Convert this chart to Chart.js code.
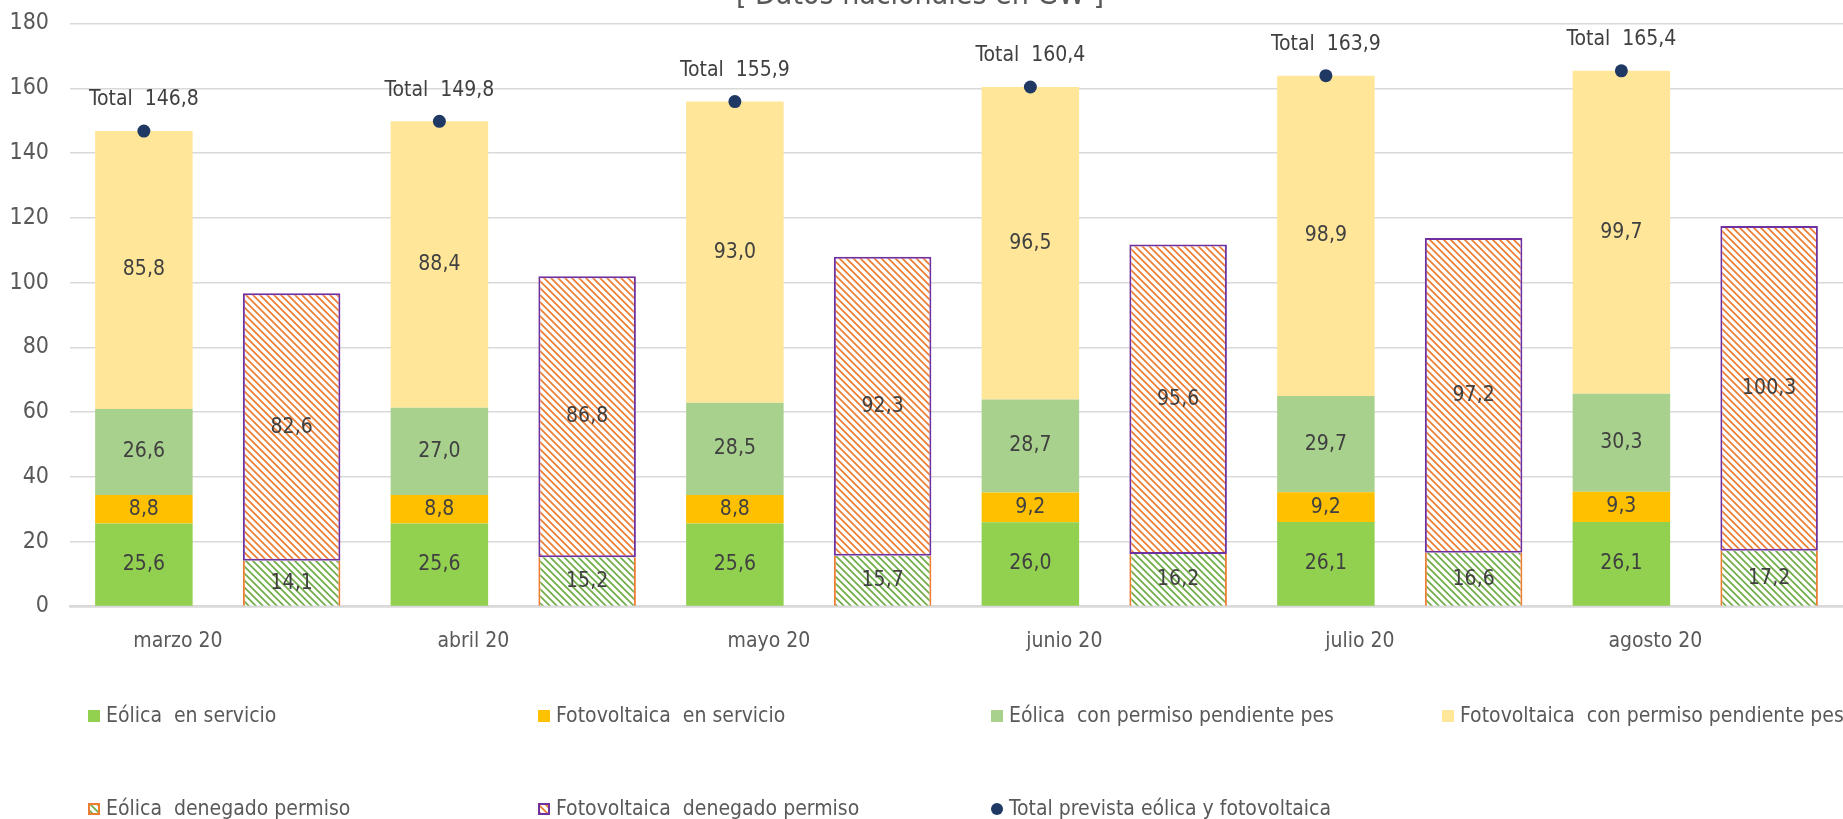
<!DOCTYPE html>
<html>
<head>
<meta charset="utf-8">
<script src="https://cdn.jsdelivr.net/npm/chart.js@4.4.1/dist/chart.umd.min.js"></script>
<style>
  html, body { margin: 0; padding: 0; background: #fff; }
  #wrap { width: 1843px; height: 819px; position: relative; }
</style>
</head>
<body>
<div id="wrap"><canvas id="grafico"></canvas></div>
<script>
// datos (GW)
const meses = ['marzo 20', 'abril 20', 'mayo 20', 'junio 20', 'julio 20', 'agosto 20'];
const eolicaServicio = [25.6, 25.6, 25.6, 26.0, 26.1, 26.1];
const fotovoltaicaServicio = [8.8, 8.8, 8.8, 9.2, 9.2, 9.3];
const eolicaPendiente = [26.6, 27.0, 28.5, 28.7, 29.7, 30.3];
const fotovoltaicaPendiente = [85.8, 88.4, 93.0, 96.5, 98.9, 99.7];
const eolicaDenegado = [14.1, 15.2, 15.7, 16.2, 16.6, 17.2];
const fotovoltaicaDenegado = [82.6, 86.8, 92.3, 95.6, 97.2, 100.3];
const totalPrevista = [146.8, 149.8, 155.9, 160.4, 163.9, 165.4];
const ticksY = [0, 20, 40, 60, 80, 100, 120, 140, 160, 180];

const FUENTE = "'Liberation Sans Narrow', 'DejaVu Sans Condensed', 'Roboto', sans-serif";

// cada mes ocupa dos huecos: columna en servicio/pendiente y columna denegada
const etiquetas = meses.flatMap(m => [m, '']);
const enPar = arr => arr.flatMap(v => [v, null]);
const enImpar = arr => arr.flatMap(v => [null, v]);

function coma(v) {
  return v.toFixed(1).replace('.', ',');
}

// trama diagonal tipo Excel
function trama(color) {
  const c = document.createElement('canvas');
  c.width = 7; c.height = 7;
  const g = c.getContext('2d');
  g.fillStyle = '#fff';
  g.fillRect(0, 0, 7, 7);
  g.strokeStyle = color;
  g.lineWidth = 1.7;
  g.beginPath();
  g.moveTo(-1, -1); g.lineTo(8, 8);
  g.moveTo(-1, 6); g.lineTo(1, 8);
  g.moveTo(6, -1); g.lineTo(8, 1);
  g.stroke();
  return g.createPattern(c, 'repeat');
}

const tramaVerde = trama('#70AD47');
const tramaNaranja = trama('#ED7D31');

const rotulos = {
  id: 'rotulos',
  afterDatasetsDraw(chart) {
    const ctx = chart.ctx;
    ctx.save();
    ctx.font = '21px ' + FUENTE;
    ctx.textAlign = 'center';
    ctx.textBaseline = 'middle';
    ctx.fillStyle = '#404040';
    chart.data.datasets.forEach((ds, i) => {
      const meta = chart.getDatasetMeta(i);
      meta.data.forEach((el, j) => {
        const v = ds.data[j];
        if (v === null || v === undefined) return;
        if (ds.type === 'line') {
          ctx.fillText('Total  ' + coma(v), el.x, el.y - 31);
        } else {
          ctx.fillText(coma(v), el.x, (el.y + el.base) / 2);
        }
      });
    });
    // titulo cortado arriba
    ctx.font = '30px ' + FUENTE;
    ctx.fillStyle = '#595959';
    ctx.textBaseline = 'alphabetic';
    ctx.fillText('[ Datos nacionales en GW ]', 920, 4);
    ctx.restore();
  }
};

const leyendaItems = [
  { texto: 'Eólica  en servicio', x: 88, y: 716, tipo: 'solido', color: '#92D050' },
  { texto: 'Fotovoltaica  en servicio', x: 538, y: 716, tipo: 'solido', color: '#FFC000' },
  { texto: 'Eólica  con permiso pendiente pes', x: 991, y: 716, tipo: 'solido', color: '#A9D18E' },
  { texto: 'Fotovoltaica  con permiso pendiente pes', x: 1442, y: 716, tipo: 'solido', color: '#FFE699' },
  { texto: 'Eólica  denegado permiso', x: 88, y: 809, tipo: 'trama', color: tramaVerde, borde: '#ED7D31' },
  { texto: 'Fotovoltaica  denegado permiso', x: 538, y: 809, tipo: 'trama', color: tramaNaranja, borde: '#7030A0' },
  { texto: 'Total prevista eólica y fotovoltaica', x: 991, y: 809, tipo: 'punto', color: '#1F3864' }
];

const leyenda = {
  id: 'leyenda',
  afterDraw(chart) {
    const ctx = chart.ctx;
    ctx.save();
    ctx.font = '21px ' + FUENTE;
    ctx.textBaseline = 'middle';
    ctx.textAlign = 'left';
    leyendaItems.forEach(it => {
      if (it.tipo === 'punto') {
        ctx.fillStyle = it.color;
        ctx.beginPath();
        ctx.arc(it.x + 6, it.y, 6, 0, Math.PI * 2);
        ctx.fill();
      } else {
        ctx.fillStyle = it.color;
        ctx.fillRect(it.x, it.y - 6, 12, 12);
        if (it.borde) {
          ctx.strokeStyle = it.borde;
          ctx.lineWidth = 2;
          ctx.strokeRect(it.x + 1, it.y - 5, 10, 10);
        }
      }
      ctx.fillStyle = '#595959';
      ctx.fillText(it.texto, it.x + 18, it.y + 1);
    });
    ctx.restore();
  }
};

const ctx = document.getElementById('grafico').getContext('2d');
const grafico = new Chart(ctx, {
  type: 'bar',
  data: {
    labels: etiquetas,
    datasets: [
      { label: 'Eólica  en servicio', data: enPar(eolicaServicio), backgroundColor: '#92D050', stack: 's' },
      { label: 'Fotovoltaica  en servicio', data: enPar(fotovoltaicaServicio), backgroundColor: '#FFC000', stack: 's' },
      { label: 'Eólica  con permiso pendiente pes', data: enPar(eolicaPendiente), backgroundColor: '#A9D18E', stack: 's' },
      { label: 'Fotovoltaica  con permiso pendiente pes', data: enPar(fotovoltaicaPendiente), backgroundColor: '#FFE699', stack: 's' },
      {
        label: 'Eólica  denegado permiso', data: enImpar(eolicaDenegado), backgroundColor: tramaVerde, stack: 's',
        borderColor: '#ED7D31', borderWidth: { left: 2, right: 2, top: 0, bottom: 0 }, borderSkipped: false
      },
      {
        label: 'Fotovoltaica  denegado permiso', data: enImpar(fotovoltaicaDenegado), backgroundColor: tramaNaranja, stack: 's',
        borderColor: '#7030A0', borderWidth: 2, borderSkipped: false
      },
      {
        type: 'line',
        label: 'Total prevista eólica y fotovoltaica',
        data: enPar(totalPrevista),
        order: -1,
        showLine: false,
        backgroundColor: '#1F3864',
        borderColor: '#1F3864',
        borderWidth: 0,
        pointRadius: 6.5
      }
    ]
  },
  options: {
    responsive: true,
    maintainAspectRatio: false,
    animation: false,
    devicePixelRatio: 1,
    categoryPercentage: 1,
    barPercentage: 0.66,
    layout: { autoPadding: false, padding: { top: 23.5, right: 0, bottom: 0, left: 0 } },
    plugins: {
      legend: { display: false },
      tooltip: { enabled: false }
    },
    scales: {
      x: {
        stacked: true,
        grid: { display: false, drawTicks: false },
        border: { color: '#D9D9D9', width: 2.5 },
        ticks: {
          color: '#595959',
          font: { family: FUENTE, size: 21 },
          padding: 22,
          labelOffset: 34,
          autoSkip: false,
          maxRotation: 0
        },
        afterFit(scale) { scale.height = 212.5; }
      },
      y: {
        min: 0,
        max: 180,
        afterBuildTicks(scale) { scale.ticks = ticksY.map(v => ({ value: v })); },
        grid: { color: '#D9D9D9', lineWidth: 1.5, drawTicks: false },
        border: { display: false },
        ticks: {
          color: '#595959',
          font: { family: FUENTE, size: 23 },
          padding: 21
        },
        afterFit(scale) {
          scale.width = 70;
          scale.paddingTop = 0;
          scale.paddingBottom = 0;
        }
      }
    }
  },
  plugins: [rotulos, leyenda]
});
</script>
</body>
</html>
